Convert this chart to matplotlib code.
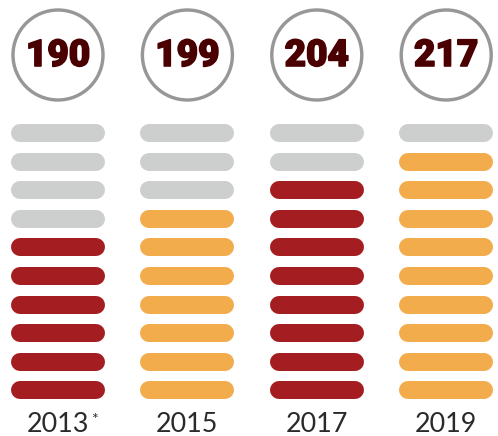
import matplotlib
matplotlib.use("Agg")
import matplotlib.pyplot as plt
import matplotlib.patheffects as pe
from matplotlib.patches import Circle

# Data
years = ["2013", "2015", "2017", "2019"]
year_notes = ["*", "", "", ""]
values = [190, 199, 204, 217]
filled = [6, 7, 8, 9]
total_bars = 10
fill_colors = ["#A31D21", "#F2AC4B", "#A31D21", "#F2AC4B"]
empty_color = "#CDCFCE"

W, H = 498, 436
fig = plt.figure(figsize=(W / 100, H / 100), dpi=100)
ax = fig.add_axes([0, 0, 1, 1])
ax.set_xlim(0, W)
ax.set_ylim(H, 0)
ax.axis("off")

px = 72 / 100  # points per pixel
col_x0, col_dx = 58, 129.4
bar_half, bar_h = 47, 18
row_y0, row_dy = 133, 28.6

for i, (yr, note, v, f, c) in enumerate(zip(years, year_notes, values, filled, fill_colors)):
    cx = col_x0 + i * col_dx
    # circle and number
    ax.add_patch(Circle((cx, 55), 45, fill=False, lw=3.4 * px, ec="#979797"))
    ax.text(cx, 56, str(v), ha="center", va="center", fontsize=37 * px,
            family="Roboto", fontweight="black", color="#4A0000",
            path_effects=[pe.withStroke(linewidth=1.6 * px, foreground="#4A0000")])
    # bars
    for j in range(total_bars):
        y = row_y0 + j * row_dy
        color = c if j >= total_bars - f else empty_color
        ax.plot([cx - bar_half + bar_h / 2, cx + bar_half - bar_h / 2], [y, y],
                lw=bar_h * px, color=color, solid_capstyle="round")
    # year label
    t = ax.text(cx, 424, yr, ha="center", va="center", fontsize=27 * px,
                family="Lato", fontweight="normal", color="#2A2A2A")
    if note:
        ax.annotate(note, xy=(1, 0.65), xycoords=t, xytext=(1.5 * px, 0),
                    textcoords="offset points", ha="left", va="center",
                    fontsize=16 * px, family="Lato", color="#333333")

fig.savefig("out.png", dpi=100)
